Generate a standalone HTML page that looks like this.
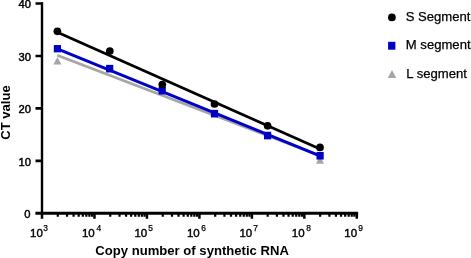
<!DOCTYPE html>
<html><head><meta charset="utf-8">
<style>
html,body{margin:0;padding:0;background:#fff;}
body{width:471px;height:258px;overflow:hidden;}
svg{display:block;}
text{font-family:"Liberation Sans",Arial,Helvetica,sans-serif;fill:#000;}
.tk{font-size:11.2px;stroke:#000;stroke-width:0.45px;}
.xk{font-size:11.5px;stroke-width:0.4px;}
.sup{font-size:8.4px;stroke:#000;stroke-width:0.25px;}
.lb{font-size:13.1px;font-weight:bold;}
.lg{font-size:13.1px;stroke:#000;stroke-width:0.25px;}
</style></head><body>
<svg width="471" height="258" viewBox="0 0 471 258">
<rect width="471" height="258" fill="#fff"/>
<g stroke="#000" fill="none">
<path d="M42.0 2.2V214.40" stroke-width="2.4"/>
<path d="M35.4 213.2H358.12" stroke-width="3"/>
<path d="M35.50 3.50H42.00M35.50 55.95H42.00M35.50 108.40H42.00M35.50 160.85H42.00" stroke-width="2.6"/>
<path d="M42.00 213.20V218.70M94.47 213.20V218.70M146.94 213.20V218.70M199.41 213.20V218.70M251.88 213.20V218.70M304.35 213.20V218.70M356.82 213.20V218.70" stroke-width="2.5"/>
<path d="M57.80 213.20V216.80M67.03 213.20V216.80M73.59 213.20V216.80M78.67 213.20V216.80M82.83 213.20V216.80M86.34 213.20V216.80M89.39 213.20V216.80M92.07 213.20V216.80M110.27 213.20V216.80M119.50 213.20V216.80M126.06 213.20V216.80M131.14 213.20V216.80M135.30 213.20V216.80M138.81 213.20V216.80M141.86 213.20V216.80M144.54 213.20V216.80M162.74 213.20V216.80M171.97 213.20V216.80M178.53 213.20V216.80M183.61 213.20V216.80M187.77 213.20V216.80M191.28 213.20V216.80M194.33 213.20V216.80M197.01 213.20V216.80M215.21 213.20V216.80M224.44 213.20V216.80M231.00 213.20V216.80M236.08 213.20V216.80M240.24 213.20V216.80M243.75 213.20V216.80M246.80 213.20V216.80M249.48 213.20V216.80M267.68 213.20V216.80M276.91 213.20V216.80M283.47 213.20V216.80M288.55 213.20V216.80M292.71 213.20V216.80M296.22 213.20V216.80M299.27 213.20V216.80M301.95 213.20V216.80M320.15 213.20V216.80M329.38 213.20V216.80M335.94 213.20V216.80M341.02 213.20V216.80M345.18 213.20V216.80M348.69 213.20V216.80M351.74 213.20V216.80M354.42 213.20V216.80" stroke-width="2.2"/>
</g>
<g class="tk" text-anchor="end"><text x="31.00" y="8.40">40</text><text x="31.00" y="60.85">30</text><text x="31.00" y="113.30">20</text><text x="31.00" y="165.75">10</text><text x="30.50" y="218.40">0</text></g>
<g class="tk xk" text-anchor="end"><text x="42.90" y="236.7">10</text><text x="94.77" y="236.7">10</text><text x="147.24" y="236.7">10</text><text x="199.71" y="236.7">10</text><text x="252.18" y="236.7">10</text><text x="304.65" y="236.7">10</text><text x="357.12" y="236.7">10</text></g>
<g class="sup"><text x="43.30" y="231.1">3</text><text x="96.57" y="231.1">4</text><text x="148.34" y="231.1">5</text><text x="201.31" y="231.1">6</text><text x="253.28" y="231.1">7</text><text x="306.15" y="231.1">8</text><text x="358.32" y="231.1">9</text></g>
<text class="lb" x="192.1" y="255" text-anchor="middle">Copy number of synthetic RNA</text>
<text class="lb" transform="translate(10.1,112.5) rotate(-90)" text-anchor="middle">CT value</text>
<g fill="none" stroke-width="2.8">
<path d="M57.2 55.3L320 155.7" stroke="#a6a6a6"/>
<path d="M57.4 48.8L320 155.9" stroke="#0000c6" stroke-width="2.9"/>
<path d="M57.4 32.3L320 149.0" stroke="#000"/>
</g>
<g fill="#a6a6a6">
<path d="M57.4 57.1l4 7.3h-8z"/>
<path d="M320 155.8l4 8h-8z"/>
</g>
<g fill="#0000c6">
<rect x="53.80" y="45.05" width="7.2" height="7.3"/>
<rect x="106.10" y="64.85" width="7.2" height="7.6"/>
<rect x="158.60" y="86.9" width="7.2" height="7.6"/>
<rect x="210.90" y="109.85" width="7.2" height="7.6"/>
<rect x="264.00" y="131.75" width="7.2" height="7.6"/>
<rect x="316.50" y="151.95" width="7.2" height="7.6"/>
</g>
<g fill="#000">
<circle cx="57.4" cy="31.3" r="3.85"/>
<circle cx="109.8" cy="51" r="3.85"/>
<circle cx="162.3" cy="84.5" r="3.85"/>
<circle cx="214.5" cy="104" r="3.85"/>
<circle cx="267.6" cy="125.8" r="3.85"/>
<circle cx="320" cy="147.4" r="3.85"/>
</g>
<circle cx="391.9" cy="17.4" r="3.85" fill="#000"/>
<rect x="388.1" y="41.8" width="7.3" height="7.9" fill="#0000c6"/>
<path d="M392 70l4.3 7.9h-8.6z" fill="#a6a6a6"/>
<g class="lg">
<text x="405.7" y="21.0">S Segment</text>
<text x="405.8" y="48.8">M segment</text>
<text x="406.3" y="77.9">L segment</text>
</g>
</svg>
</body></html>
